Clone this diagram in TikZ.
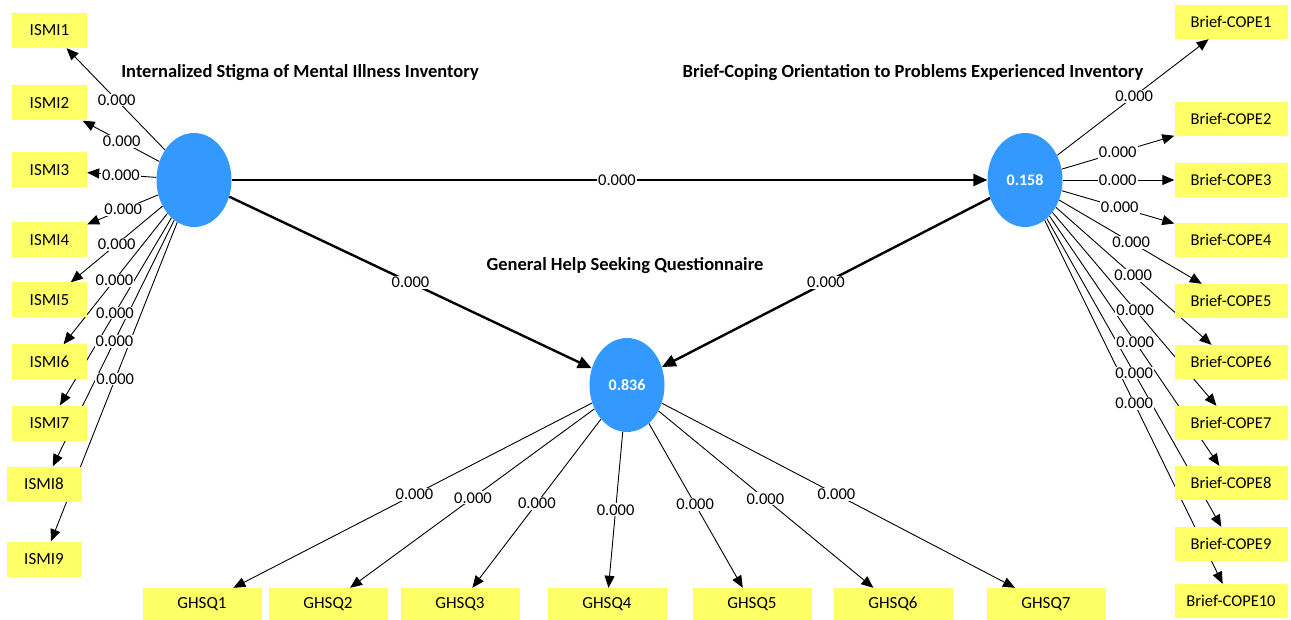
\documentclass[tikz,border=0pt]{standalone}
\usepackage{fontspec}
\setmainfont{Carlito}
\usetikzlibrary{shapes.geometric,arrows.meta,calc}
\pgfdeclarelayer{back}
\pgfsetlayers{back,main}
\definecolor{lvblue}{RGB}{51,153,255}
\definecolor{indyellow}{RGB}{255,255,102}
\begin{document}
\begin{tikzpicture}[x=1pt,y=-1pt,
  lv/.style={ellipse,fill=lvblue,minimum width=75pt,minimum height=94pt,inner sep=0pt,
    text=white,font=\fontsize{16}{19}\selectfont\bfseries},
  ind/.style={fill=indyellow,minimum width=75pt,minimum height=35pt,inner sep=0pt,
    font=\fontsize{17}{20}\selectfont},
  indc/.style={ind,minimum width=113pt,minimum height=34pt,font=\fontsize{16.5}{20}\selectfont},
  indg/.style={ind,minimum width=119pt,minimum height=32pt},
  load/.style={line width=0.9pt,-{Triangle[length=12pt,width=10pt]}},
  struct/.style={line width=2.4pt,-{Triangle[length=14pt,width=12pt]}},
  lbl/.style={fill=white,inner sep=1pt,font=\fontsize{16.5}{18}\selectfont},
  ttl/.style={font=\fontsize{18.5}{21}\selectfont\bfseries}]
\useasboundingbox (0,0) rectangle (1291,620);

% latent variables
\node[lv] (ismi) at (194,180) {};
\node[lv] (cope) at (1025,180) {0.158};
\node[lv] (ghsq) at (627,385) {0.836};

% titles
\node[ttl] (tismi) at (300,73) {Internalized Stigma of Mental Illness Inventory};
\node[ttl] (tcope) at (913,73) {Brief-Coping Orientation to Problems Experienced Inventory};
\node[ttl] (tghsq) at (625,266) {General Help Seeking Questionnaire};

% ISMI indicators
\node[ind] (i1) at (49.5,30.5) {ISMI1};
\node[ind] (i2) at (49.5,103) {ISMI2};
\node[ind] (i3) at (49.5,170) {ISMI3};
\node[ind] (i4) at (49.5,240) {ISMI4};
\node[ind] (i5) at (49.5,300) {ISMI5};
\node[ind] (i6) at (49.5,362) {ISMI6};
\node[ind] (i7) at (49.5,423) {ISMI7};
\node[ind] (i8) at (44,484) {ISMI8};
\node[ind] (i9) at (44,559) {ISMI9};

% Brief-COPE indicators
\node[indc] (c1) at (1231,22) {Brief-COPE1};
\node[indc] (c2) at (1231,119) {Brief-COPE2};
\node[indc] (c3) at (1231,180) {Brief-COPE3};
\node[indc] (c4) at (1231,240) {Brief-COPE4};
\node[indc] (c5) at (1231,301) {Brief-COPE5};
\node[indc] (c6) at (1231,362) {Brief-COPE6};
\node[indc] (c7) at (1231,423) {Brief-COPE7};
\node[indc] (c8) at (1231,483) {Brief-COPE8};
\node[indc] (c9) at (1231,544) {Brief-COPE9};
\node[indc] (c10) at (1231,601) {Brief-COPE10};

% GHSQ indicators
\node[indg] (g1) at (202,604) {GHSQ1};
\node[indg] (g2) at (328,604) {GHSQ2};
\node[indg] (g3) at (460,604) {GHSQ3};
\node[indg] (g4) at (607,604) {GHSQ4};
\node[indg] (g5) at (752,604) {GHSQ5};
\node[indg] (g6) at (893,604) {GHSQ6};
\node[indg] (g7) at (1046,604) {GHSQ7};

% connectors (behind the boxes)
\begin{pgfonlayer}{back}
\fill[white] (0,0) rectangle (1291,620);
\foreach \n in {i1,i2,i3,i4,i5,i6,i7,i8,i9} \draw[load] (ismi) -- (\n);
\foreach \n in {c1,c2,c3,c4,c5,c6,c7,c8,c9,c10} \draw[load] (cope) -- (\n);
\foreach \n in {g1,g2,g3,g4,g5,g6,g7} \draw[load] (ghsq) -- (\n);
\draw[struct] (ismi) -- (cope);
\draw[struct] (ismi) -- (ghsq);
\draw[struct] (cope) -- (ghsq);
\end{pgfonlayer}

% labels
\foreach \n/\t in {i1/0.535,i2/0.50,i3/0.505,i4/0.49,i5/0.535,i6/0.55,i7/0.547,i8/0.53,i9/0.525}
  \node[lbl] at ($(ismi)!\t!(\n)$) {0.000};
\foreach \n/\t in {c1/0.53,c2/0.45,c3/0.45,c4/0.46,c5/0.515,c6/0.525,c7/0.535,c8/0.535,c9/0.53,c10/0.53}
  \node[lbl] at ($(cope)!\t!(\n)$) {0.000};
\foreach \n/\t in {g1/0.50,g2/0.515,g3/0.54,g4/0.57,g5/0.545,g6/0.52,g7/0.50}
  \node[lbl] at ($(ghsq)!\t!(\n)$) {0.000};
\node[lbl] at ($(ismi)!0.509!(cope)$) {0.000};
\node[lbl] at ($(ismi)!0.50!(ghsq)$) {0.000};
\node[lbl] at ($(cope)!0.50!(ghsq)$) {0.000};
\end{tikzpicture}
\end{document}
